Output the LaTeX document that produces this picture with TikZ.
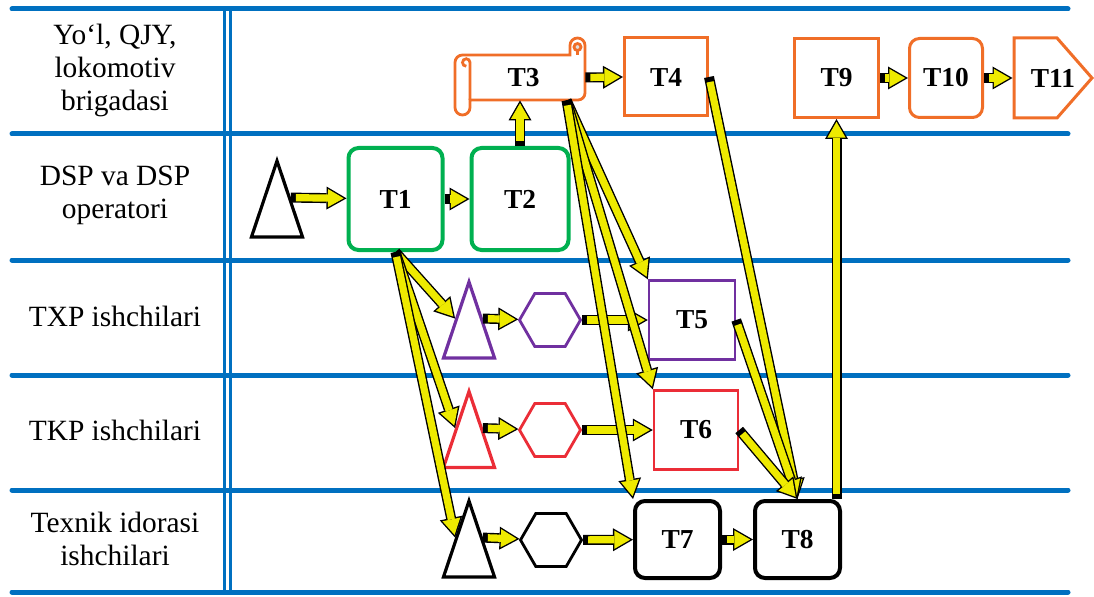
\documentclass[tikz,border=0pt]{standalone}
\usepackage{fontspec}
\setmainfont{Liberation Serif}
\usetikzlibrary{arrows.meta,shapes.geometric}
\definecolor{laneblue}{RGB}{0,112,192}
\definecolor{okgreen}{RGB}{0,176,80}
\definecolor{orng}{RGB}{240,110,40}
\definecolor{purp}{RGB}{112,48,160}
\definecolor{redd}{RGB}{235,45,55}
\definecolor{flowyellow}{RGB}{238,234,0}
\begin{document}
\begin{tikzpicture}[x=0.5pt,y=0.5pt,
  lane/.style={laneblue,line width=2.5pt,line cap=round},
  lbl/.style={align=center,font=\fontsize{14.7}{16.5}\selectfont},
  tsk/.style={draw,text=black,line width=1.5pt,inner sep=0pt,font=\fontsize{13.7}{16}\selectfont\bfseries},
  tri/.style={draw,line width=1.6pt,isosceles triangle,shape border rotate=90,isosceles triangle stretches,minimum width=25.5pt,minimum height=38pt,inner sep=0pt,anchor=lower side},
  hex/.style={draw,line width=1.4pt,regular polygon,regular polygon sides=6,minimum size=30.5pt,inner sep=0pt},
  flow/.style={draw=flowyellow,line width=3.6pt,shorten <=2.5pt,shorten >=1.4pt,-{Triangle[width=9.1pt,length=7.9pt,line width=0pt]},
    preaction={draw=black,line width=5pt,shorten <=0pt,shorten >=0pt,-{Triangle[width=11.5pt,length=10pt,line width=0pt]}}}]
   \useasboundingbox (0,0) rectangle (1094,596);
   \draw[laneblue,line width=1.5pt] (224,4) -- (224,587);
   \draw[laneblue,line width=1.5pt] (230,4) -- (230,587);
   \foreach \y in {587,462,336,221,106,4}
     \draw[lane] (12,\y) -- (1068,\y);
   \node[lbl] (lane1) at (115,526) {Yo‘l, QJY,\\lokomotiv\\brigadasi};
   \node[lbl] (lane2) at (115,401) {DSP va DSP\\operatori};
   \node[lbl] (lane3) at (115,280) {TXP ishchilari};
   \node[lbl] (lane4) at (115,166) {TKP ishchilari};
   \node[lbl] (lane5) at (115,57) {Texnik idorasi\\ishchilari};
   \node[tri] (s0) at (277,357.5) {};
   \node[tri,draw=purp] (ptri) at (469,236.5) {};
   \node[tri,draw=redd] (rtri) at (469,127) {};
   \node[tri] (btri) at (469,17.5) {};
   \node[hex,draw=purp] (phex) at (550,276) {};
   \node[hex,draw=redd] (rhex) at (550,166) {};
   \node[hex] (bhex) at (551,56) {};
   \node[tsk,draw=okgreen,line width=2pt,rounded corners=5pt,minimum width=47pt,minimum height=51pt] (T1) at (395.5,397) {T1};
   \node[tsk,draw=okgreen,line width=2pt,rounded corners=5pt,minimum width=48.5pt,minimum height=51pt] (T2) at (520,397) {T2};
   \draw[orng,line width=1.4pt,fill=white] (470,541) -- (570,541) -- (570,550.5) arc[start angle=180,end angle=0,radius=7.5]
     -- (585,503) arc[start angle=0,end angle=-90,radius=7] -- (470,496) -- (470,488.5) arc[start angle=0,end angle=-180,radius=7.5]
     -- (455,533.5) arc[start angle=180,end angle=90,radius=7.5] -- cycle;
   \draw[orng,line width=1.4pt] (470,496) -- (470,533.5) arc[start angle=0,end angle=270,radius=3.75];
   \draw[orng,line width=1.4pt,fill=gray!25] (577.5,549) circle[radius=3.5];
   \draw[orng,line width=1.4pt] (577.5,545.5) -- (577.5,541);
   \node[inner sep=0pt,minimum width=61.5pt,minimum height=22.5pt,font=\fontsize{13.7}{16}\selectfont\bfseries] (T3) at (523.5,518.5) {T3};
   \node[tsk,draw=orng,minimum width=41.5pt,minimum height=39pt] (T4) at (666,519) {T4};
   \node[tsk,draw=orng,minimum width=42pt,minimum height=39.5pt] (T9) at (836.5,518) {T9};
   \node[tsk,draw=orng,rounded corners=5pt,minimum width=36.5pt,minimum height=39.5pt] (T10) at (946,518) {T10};
   \draw[orng,line width=1.5pt] (1014,478) -- (1057,478) -- (1092,518) -- (1057,558) -- (1014,558) -- cycle;
   \node[tsk,draw=none,minimum width=39pt,minimum height=40pt] (T11) at (1053,518) {T11};
   \node[tsk,draw=purp,line width=1.2pt,minimum width=43pt,minimum height=39.5pt] (T5) at (692,276) {T5};
   \node[tsk,draw=redd,line width=1.2pt,minimum width=42pt,minimum height=39.5pt] (T6) at (696,166) {T6};
   \node[tsk,line width=2pt,rounded corners=5pt,minimum width=42.5pt,minimum height=38.5pt] (T7) at (677.5,56.5) {T7};
   \node[tsk,line width=2pt,rounded corners=5pt,minimum width=42.5pt,minimum height=38.5pt] (T8) at (797.5,56.5) {T8};
   \draw[flow] (s0.right side) -- (T1);
   \draw[flow] (T1) -- (T2);
   \draw[flow] (T2.north) -- (T2.north |- T3.south);
   \draw[flow] (T3.east) -- (T4.west);
   \draw[flow] (T9) -- (T10);
   \draw[flow] (T10) -- (T11);
   \draw[flow] (ptri.right side) -- (phex);
   \draw[flow] (phex) -- (T5);
   \draw[flow] (rtri.right side) -- (rhex);
   \draw[flow] (rhex) -- (T6);
   \draw[flow] (btri.right side) -- (bhex);
   \draw[flow] (bhex) -- (T7);
   \draw[flow] (T7) -- (T8);
   \foreach \t in {ptri,rtri,btri}
     \draw[flow] (T1.south) -- (\t.left side);
   \foreach \t in {T5,T6,T7}
     \draw[flow] (T3.-28) -- (\t.north west);
   \foreach \t in {T4,T5,T6}
     \draw[flow] (\t.east) -- (T8.north);
   \draw[flow] (T8.north east -| T9.south) -- (T9.south);
\end{tikzpicture}
\end{document}
